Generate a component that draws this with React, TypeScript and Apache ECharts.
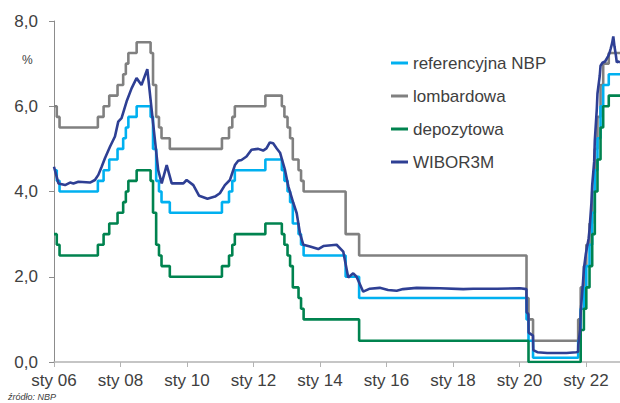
import React, { useEffect, useRef } from "react";
import * as echarts from "echarts";

// Policy-rate change dates (effective) and levels, %
const policyDates = [
  "2006-01-01", "2006-02-01", "2006-03-01", "2007-04-26", "2007-06-28", "2007-08-30", "2007-11-29",
  "2008-01-31", "2008-02-28", "2008-03-27", "2008-06-26", "2008-11-27", "2008-12-24",
  "2009-01-28", "2009-02-26", "2009-03-26", "2009-06-25",
  "2011-01-20", "2011-04-06", "2011-05-12", "2011-06-09",
  "2012-05-10", "2012-11-08", "2012-12-06",
  "2013-01-10", "2013-02-07", "2013-03-07", "2013-05-09", "2013-06-06", "2013-07-04",
  "2014-10-09", "2015-03-05",
  "2020-03-18", "2020-04-09", "2020-05-29",
  "2021-10-07", "2021-11-04", "2021-12-09",
  "2022-01-05", "2022-02-09", "2022-03-09", "2022-04-07", "2022-05-06", "2022-06-09", "2022-07-08", "2022-09-08",
  "2023-01-10",
];
const refRates = [
  4.5, 4.25, 4.0, 4.25, 4.5, 4.75, 5.0,
  5.25, 5.5, 5.75, 6.0, 5.75, 5.0,
  4.25, 4.0, 3.75, 3.5,
  3.75, 4.0, 4.25, 4.5,
  4.75, 4.5, 4.25,
  4.0, 3.75, 3.25, 3.0, 2.75, 2.5,
  2.0, 1.5,
  1.0, 0.5, 0.1,
  0.5, 1.25, 1.75,
  2.25, 2.75, 3.5, 4.5, 5.25, 6.0, 6.5, 6.75,
  6.75,
];
const lombardRates = [
  6.0, 5.75, 5.5, 5.75, 6.0, 6.25, 6.5,
  6.75, 7.0, 7.25, 7.5, 7.25, 6.5,
  5.75, 5.5, 5.25, 5.0,
  5.25, 5.5, 5.75, 6.0,
  6.25, 6.0, 5.75,
  5.5, 5.25, 4.75, 4.5, 4.25, 4.0,
  3.0, 2.5,
  1.5, 1.0, 0.5,
  1.0, 1.75, 2.25,
  2.75, 3.25, 4.0, 5.0, 5.75, 6.5, 7.0, 7.25,
  7.25,
];
const depositRates = [
  3.0, 2.75, 2.5, 2.75, 3.0, 3.25, 3.5,
  3.75, 4.0, 4.25, 4.5, 4.25, 3.5,
  2.75, 2.5, 2.25, 2.0,
  2.25, 2.5, 2.75, 3.0,
  3.25, 3.0, 2.75,
  2.5, 2.25, 1.75, 1.5, 1.25, 1.0,
  1.0, 0.5,
  0.5, 0.0, 0.0,
  0.0, 0.75, 1.25,
  1.75, 2.25, 3.0, 4.0, 4.75, 5.5, 6.0, 6.25,
  6.25,
];

// WIBOR 3M readings
const wiborDates = [
  "2006-01-01", "2006-02-18", "2006-05-01", "2006-06-25", "2006-08-01", "2006-09-25",
  "2007-02-01", "2007-03-25", "2007-05-01", "2007-06-07", "2007-07-13", "2007-09-07", "2007-11-01", "2007-12-07",
  "2008-01-13", "2008-03-07", "2008-05-01", "2008-06-25", "2008-08-19", "2008-10-22", "2008-12-25",
  "2009-02-18", "2009-03-28", "2009-05-22", "2009-07-16", "2009-11-22", "2009-12-28",
  "2010-03-10", "2010-05-13", "2010-08-13", "2010-11-04", "2010-12-28",
  "2011-02-20", "2011-04-16", "2011-06-10", "2011-07-16", "2011-08-22", "2011-10-16", "2011-12-10",
  "2012-02-22", "2012-04-16", "2012-05-22", "2012-06-28", "2012-08-04", "2012-09-13", "2012-10-19", "2012-12-13",
  "2013-01-19", "2013-03-13", "2013-04-19", "2013-05-25", "2013-07-01", "2013-09-13", "2013-12-13",
  "2014-02-07", "2014-07-01", "2014-09-13", "2014-11-07",
  "2015-01-01", "2015-02-07", "2015-04-19", "2015-07-01", "2015-10-19",
  "2016-01-19", "2016-04-22", "2016-07-01", "2016-11-28",
  "2017-08-10", "2018-04-22", "2018-08-10", "2019-05-01",
  "2020-01-07", "2020-03-17", "2020-03-19", "2020-04-08", "2020-04-10", "2020-05-28", "2020-06-01",
  "2020-07-15", "2020-11-01", "2021-03-01", "2021-06-01", "2021-09-15",
  "2021-10-06", "2021-10-08", "2021-10-29", "2021-11-05", "2021-11-30", "2021-12-10", "2021-12-31",
  "2022-01-05", "2022-01-31", "2022-02-09", "2022-02-28", "2022-03-09", "2022-03-31",
  "2022-04-07", "2022-04-29", "2022-05-06", "2022-05-31", "2022-06-09", "2022-06-30",
  "2022-07-29", "2022-08-31", "2022-09-15", "2022-09-30", "2022-10-15", "2022-10-28",
  "2022-11-10", "2022-11-25", "2022-12-05", "2022-12-20", "2023-01-10",
];
const wiborValues = [
  4.58, 4.19, 4.15, 4.21, 4.19, 4.23,
  4.21, 4.27, 4.39, 4.58, 4.78, 5.05, 5.29, 5.64,
  5.72, 6.11, 6.42, 6.66, 6.5, 6.87, 5.6,
  4.5, 4.19, 4.62, 4.19, 4.19, 4.27,
  4.15, 3.9, 3.83, 3.88, 3.96,
  4.15, 4.27, 4.62, 4.72, 4.74, 4.82, 4.98,
  5.0, 4.96, 5.01, 5.15, 5.13, 5.01, 4.91, 4.5,
  4.12, 3.73, 3.49, 3.02, 2.75, 2.71, 2.65,
  2.72, 2.75, 2.59, 1.98,
  2.08, 2.0, 1.65, 1.72, 1.74,
  1.69, 1.67, 1.71, 1.74,
  1.73, 1.71, 1.72, 1.72,
  1.73, 1.71, 1.17, 1.12, 0.69, 0.62, 0.28,
  0.23, 0.21, 0.21, 0.21, 0.23,
  0.24, 0.4, 0.75, 1.2, 1.9, 2.2, 2.54,
  2.6, 2.9, 3.1, 3.72, 4.15, 4.7,
  5.2, 5.95, 6.3, 6.71, 6.95, 7.02,
  7.05, 7.17, 7.24, 7.36, 7.48, 7.64,
  7.4, 7.2, 7.03, 7.05, 7.03,
];

const xTickDates = [
  "2006-01-01", "2008-01-01", "2010-01-01", "2012-01-01", "2014-01-01",
  "2016-01-01", "2018-01-01", "2020-01-01", "2022-01-01",
];
const xTickLabels = ["sty 06", "sty 08", "sty 10", "sty 12", "sty 14", "sty 16", "sty 18", "sty 20", "sty 22"];
const yTickLabels = ["0,0", "2,0", "4,0", "6,0", "8,0"];
const xEndDate = "2023-01-10";

const seriesNames = ["referencyjna NBP", "lombardowa", "depozytowa", "WIBOR3M"];
const seriesColors = ["#00B0F0", "#808080", "#00834F", "#2E3F94"];

function monthIndex(d: string): number {
  const [y, m, day] = d.split("-").map(Number);
  const dim = new Date(Date.UTC(y, m, 0)).getUTCDate();
  return (y - 2006) * 12 + (m - 1) + (day - 1) / dim;
}

const FONT = "'Liberation Sans', Arial, sans-serif";

export default function App() {
  const ref = useRef<HTMLDivElement>(null);
  useEffect(() => {
    if (!ref.current) return;
    const chart = echarts.init(ref.current, null, { renderer: "svg" });
    const tickVals = xTickDates.map(monthIndex);
    const pts = (dates: string[], vals: number[]) => dates.map((d, i) => [monthIndex(d), vals[i]]);
    const lineSeries = (name: string, data: number[][], color: string, step: any, z: number) => ({
      name,
      type: "line",
      data,
      step,
      showSymbol: false,
      symbol: "none",
      z,
      lineStyle: { color, width: 2.6 },
      itemStyle: { color },
    });
    chart.setOption({
      animation: false,
      textStyle: { fontFamily: FONT },
      grid: { left: 54, right: 0, top: 21, bottom: 41 },
      xAxis: {
        type: "value",
        min: 0,
        max: monthIndex(xEndDate),
        splitLine: { show: false },
        axisLine: { show: true, lineStyle: { color: "#b3b3b3", width: 1.5 } },
        axisTick: { show: true, length: 5, customValues: tickVals, lineStyle: { color: "#b3b3b3", width: 1 } },
        axisLabel: {
          customValues: tickVals,
          margin: 10,
          fontSize: 17,
          color: "#404040",
          fontFamily: FONT,
          formatter: (v: number) => {
            const i = tickVals.findIndex((t) => Math.abs(t - v) < 0.01);
            return i >= 0 ? xTickLabels[i] : "";
          },
        },
      },
      yAxis: {
        type: "value",
        min: 0,
        max: 8,
        interval: 2,
        splitLine: { show: false },
        axisLine: { show: true, lineStyle: { color: "#8c8c8c", width: 1 } },
        axisTick: { show: true, length: 5, lineStyle: { color: "#8c8c8c" } },
        axisLabel: {
          margin: 16,
          fontSize: 17,
          color: "#404040",
          fontFamily: FONT,
          formatter: (v: number) => yTickLabels[Math.round(v / 2)] ?? "",
        },
      },
      legend: {
        orient: "vertical",
        left: 386,
        top: 48,
        itemWidth: 17,
        itemHeight: 3,
        itemGap: 13,
        icon: "rect",
        data: seriesNames,
        textStyle: { fontSize: 17, color: "#404040", fontFamily: FONT, lineHeight: 20 },
      },
      graphic: [
        {
          type: "text",
          left: 22,
          top: 54,
          style: { text: "%", fontSize: 12, fill: "#404040", fontFamily: FONT },
        },
        {
          type: "text",
          left: 8,
          top: 392,
          style: { text: "źródło: NBP", fontSize: 9, fontStyle: "italic", fill: "#404040", fontFamily: FONT },
        },
      ],
      series: [
        lineSeries(seriesNames[1], pts(policyDates, lombardRates), seriesColors[1], "end", 2),
        lineSeries(seriesNames[0], pts(policyDates, refRates), seriesColors[0], "end", 3),
        lineSeries(seriesNames[2], pts(policyDates, depositRates), seriesColors[2], "end", 4),
        lineSeries(seriesNames[3], pts(wiborDates, wiborValues), seriesColors[3], false, 5),
      ],
    });
    return () => chart.dispose();
  }, []);
  return (
    <div
      ref={ref}
      style={{ position: "fixed", left: 0, top: 0, width: 620, height: 403, background: "#ffffff" }}
    />
  );
}
